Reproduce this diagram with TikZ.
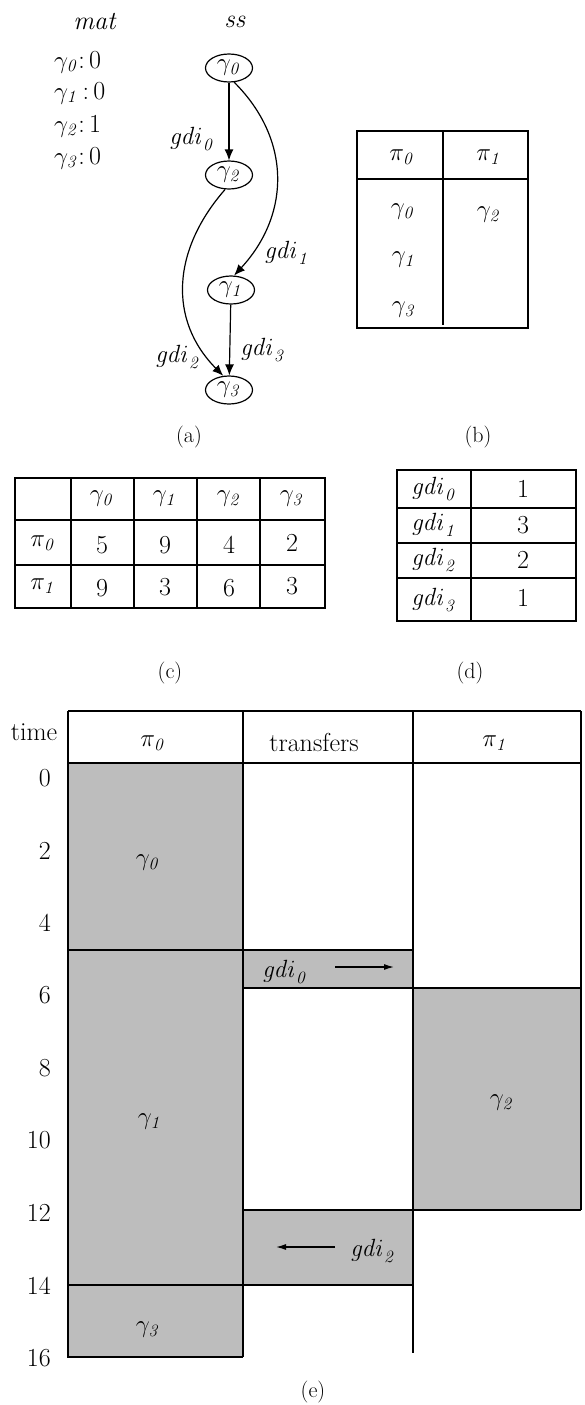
\documentclass[tikz,border=0pt]{standalone}
\usetikzlibrary{shapes.geometric,arrows.meta}
\newcommand{\gm}[1]{$\gamma_{\mathit{#1}}$}
\newcommand{\ppi}[1]{$\pi_{\mathit{#1}}$}
\newcommand{\gd}[1]{$\mathit{gdi}_{\mathit{#1}}$}
\begin{document}
\begin{tikzpicture}[x=1pt,y=-1pt,
  every node/.style={font=\fontsize{26}{30}\selectfont, inner sep=0pt},
  statenode/.style={draw, ellipse, line width=1.2pt, minimum width=47pt, minimum height=28pt},
  arr/.style={line width=1.2pt, -{Latex[length=11pt,width=9pt]}},
  tab/.style={line width=1.4pt},
  shade/.style={fill=black!26},
  tarr/.style={line width=1.2pt, -{Latex[length=10pt,width=6pt]}},
  lbl/.style={font=\fontsize{22}{26}\selectfont}]
\useasboundingbox (0,0) rectangle (584,1405);

% ---------- (a) ----------
\node (mat) at (95,22) {\textit{mat}};
\node (ss) at (235,22) {\textit{ss}};
\node[anchor=west] (m0) at (54,62) {\gm0:\,0};
\node[anchor=west] (m1) at (54,93) {\gm1\,:\,0};
\node[anchor=west] (m2) at (54,126) {\gm2:\,1};
\node[anchor=west] (m3) at (54,158) {\gm3:\,0};

\node[statenode] (g0) at (229,68) {\gm0};
\node[statenode] (g2) at (229,175) {\gm2};
\node[statenode] (g1) at (231,290) {\gm1};
\node[statenode] (g3) at (229,390) {\gm3};

\draw[arr] (g0) -- (g2);
\draw[arr] (g0.-70) .. controls (292,140) and (290,215) .. (g1.78);
\draw[arr] (g2.-105) .. controls (172,250) and (168,320) .. (g3.112);
\draw[arr] (g1) -- (g3);

\node (e0) at (192,139) {\gd0};
\node (e1) at (287,253) {\gd1};
\node (e2) at (178,357) {\gd2};
\node (e3) at (263,350) {\gd3};
\node[lbl] (ca) at (189,437) {(a)};

% ---------- (b) ----------
\draw[tab] (357,131) rectangle (528,328);
\draw[tab] (357,179) -- (528,179);
\draw[tab] (443,131) -- (443,325);
\node (bp0) at (402,157) {\ppi0};
\node (bp1) at (489,157) {\ppi1};
\node (bg0) at (403,212) {\gm0};
\node (bg2) at (489,215) {\gm2};
\node (bg1) at (404,260) {\gm1};
\node (bg3) at (404,310) {\gm3};
\node[lbl] (cb) at (478,437) {(b)};

% ---------- (c) ----------
\draw[tab] (15,478) rectangle (325,608);
\foreach \xx in {71,134,197,260} \draw[tab] (\xx,478) -- (\xx,608);
\foreach \yy in {520,565} \draw[tab] (15,\yy) -- (325,\yy);
\node (ch0) at (102,499) {\gm0};
\node (ch1) at (165,499) {\gm1};
\node (ch2) at (229,499) {\gm2};
\node (ch3) at (292,499) {\gm3};
\node (cr0) at (43,543) {\ppi0};
\node (cr1) at (43,586) {\ppi1};
\node (c00) at (102,545) {5};
\node (c01) at (165,545) {9};
\node (c02) at (229,545) {4};
\node (c03) at (292,543) {2};
\node (c10) at (102,588) {9};
\node (c11) at (165,587) {3};
\node (c12) at (229,588) {6};
\node (c13) at (292,586) {3};
\node[lbl] (cc) at (170,673) {(c)};

% ---------- (d) ----------
\draw[tab] (397,470) rectangle (576,621);
\draw[tab] (471,470) -- (471,621);
\foreach \yy in {508,543,578} \draw[tab] (397,\yy) -- (576,\yy);
\node (d0) at (434,489) {\gd0};
\node (d1) at (434,525) {\gd1};
\node (d2) at (434,560) {\gd2};
\node (d3) at (434,600) {\gd3};
\node (v0) at (523,489) {1};
\node (v1) at (523,525) {3};
\node (v2) at (523,560) {2};
\node (v3) at (523,598) {1};
\node[lbl] (cd) at (470,673) {(d)};

% ---------- (e) ----------
\fill[shade] (68,763) rectangle (243,1357);
\fill[shade] (243,950) rectangle (413,988);
\fill[shade] (413,988) rectangle (581,1210);
\fill[shade] (243,1210) rectangle (413,1285);
\draw[tab] (68,711) -- (581,711);
\draw[tab] (68,763) -- (581,763);
\draw[tab] (68,711) -- (68,1357) -- (243,1357);
\draw[tab] (243,711) -- (243,1357);
\draw[tab] (413,711) -- (413,1353);
\draw[tab] (581,711) -- (581,1210);
\draw[tab] (68,950) -- (413,950);
\draw[tab] (243,988) -- (581,988);
\draw[tab] (243,1210) -- (581,1210);
\draw[tab] (68,1285) -- (413,1285);

\node (time) at (34,732) {time};
\node (hp0) at (153,743) {\ppi0};
\node (htr) at (314,742) {transfers};
\node (hp1) at (495,743) {\ppi1};
\foreach \t in {0,2,...,16}
  \node[anchor=east] (t\t) at (51,{778+36.25*\t}) {\t};

\node (s0) at (148,863) {\gm0};
\node (s1) at (150,1122) {\gm1};
\node (s3) at (148,1330) {\gm3};
\node (s2) at (502,1103) {\gm2};

\node (x0) at (285,972) {\gd0};
\coordinate (a0s) at (335,967);
\coordinate (a0e) at (394,967);
\draw[tarr] (a0s) -- (a0e);
\node (x2) at (373,1251) {\gd2};
\coordinate (a2s) at (335,1247);
\coordinate (a2e) at (276,1247);
\draw[tarr] (a2s) -- (a2e);
\node[lbl] (ce) at (313,1392) {(e)};
\end{tikzpicture}
\end{document}
